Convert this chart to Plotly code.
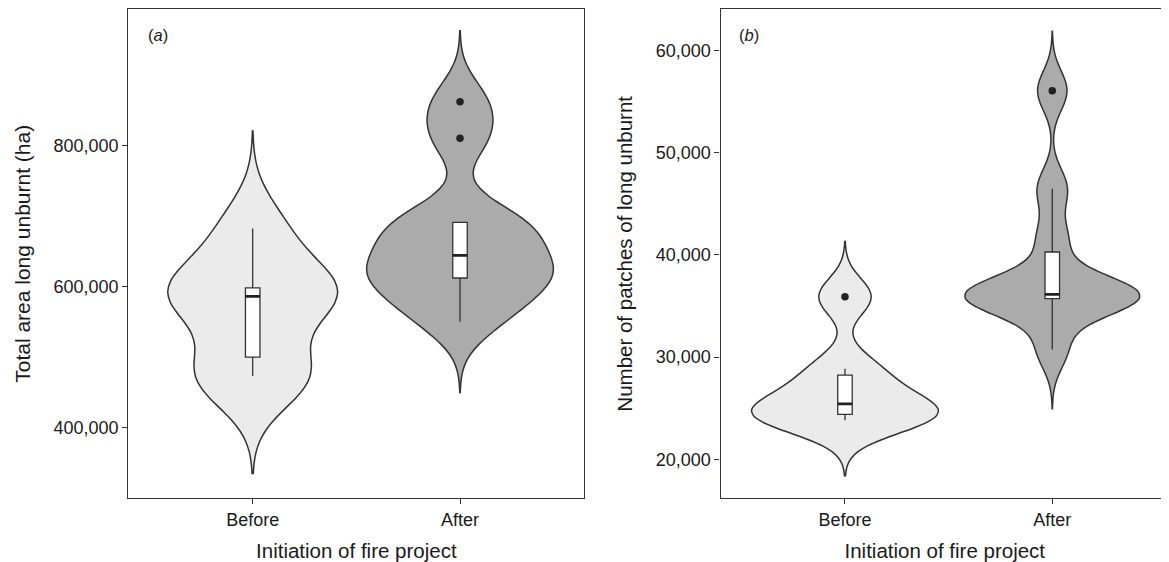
import numpy as np
import plotly.graph_objects as go

# ---------------- data ----------------
categories = ["Before", "After"]

# Panel (a): total area long unburnt (ha)
area_before = [473000, 474000, 577000, 595000, 599000, 682000]
area_after = [550000, 580000, 608000, 624000, 626000, 662000, 691000, 691000, 810000, 862000]

# Panel (b): number of patches of long unburnt
patches_before = [23810, 24370, 24450, 26410, 28850, 35900]
patches_after = [30750, 35600, 35650, 35930, 36050, 36250, 36600, 41520, 46480, 56080]

y_ticks_a = [400000, 600000, 800000]
y_ticks_b = [20000, 30000, 40000, 50000, 60000]
y_range_a = [299600, 993000]
y_range_b = [16180, 64050]

panel_labels = ["a", "b"]
x_title = "Initiation of fire project"
y_title_a = "Total area long unburnt (ha)"
y_title_b = "Number of patches of long unburnt"

# ---------------- styling ----------------
WIN_W, WIN_H = 1169, 562
OFF = 8                      # default page margin of the html body
W, H = WIN_W - OFF, WIN_H - OFF
FONT = "Liberation Sans, Arial, Helvetica, sans-serif"
fills = ["#EBEBEB", "#ABABAB"]
LINE = "#333333"
TXT = "#1a1a1a"
VIOLIN_W = 0.9


def px_x(p):
    return (p - OFF) / W


def px_y(p):
    return 1 - (p - OFF) / H


def bw_nrd0(v):
    v = np.asarray(v, dtype=float)
    sd = v.std(ddof=1)
    iqr = np.percentile(v, 75) - np.percentile(v, 25)
    return 0.9 * min(sd, iqr / 1.34) * len(v) ** -0.2


def kde_max(v, bw):
    v = np.asarray(v, dtype=float)
    grid = np.linspace(v.min() - 3 * bw, v.max() + 3 * bw, 1024)
    d = np.exp(-0.5 * ((grid[:, None] - v[None, :]) / bw) ** 2).sum(axis=1)
    return (d / (len(v) * bw * np.sqrt(2 * np.pi))).max()


def box_stats(v):
    v = np.asarray(v, dtype=float)
    q1, med, q3 = np.percentile(v, [25, 50, 75])
    iqr = q3 - q1
    inside = v[(v >= q1 - 1.5 * iqr) & (v <= q3 + 1.5 * iqr)]
    out = v[(v < q1 - 1.5 * iqr) | (v > q3 + 1.5 * iqr)]
    return q1, med, q3, inside.min(), inside.max(), out


fig = go.Figure()

panels = [
    ("x", "y", "a", [area_before, area_after]),
    ("x2", "y2", "b", [patches_before, patches_after]),
]

for xa, ya, grp, series in panels:
    bws = [bw_nrd0(v) for v in series]
    peaks = [kde_max(v, b) for v, b in zip(series, bws)]
    for i, vals in enumerate(series):
        pos = i + 1
        bw = bws[i]
        # ggplot-like scale="area": widths proportional to each violin's density peak
        vw = VIOLIN_W * peaks[i] / max(peaks)
        fig.add_trace(go.Violin(
            x0=pos, y=vals, xaxis=xa, yaxis=ya,
            width=vw, scalegroup=f"{grp}{i}", scalemode="width",
            bandwidth=bw, spanmode="manual",
            span=[min(vals) - 3 * bw, max(vals) + 3 * bw],
            fillcolor=fills[i], opacity=1,
            line=dict(color=LINE, width=1.5),
            points=False, box_visible=False, meanline_visible=False,
            showlegend=False, hoveron="violins",
        ))
        q1, med, q3, lf, uf, out = box_stats(vals)
        fig.add_trace(go.Box(
            x=[pos], q1=[q1], median=[med], q3=[q3],
            lowerfence=[lf], upperfence=[uf],
            xaxis=xa, yaxis=ya,
            width=0.07, fillcolor="white",
            line=dict(color=LINE, width=1.3), whiskerwidth=0,
            showlegend=False,
        ))
        fig.add_trace(go.Scatter(
            x=[pos - 0.035, pos + 0.035], y=[med, med],
            xaxis=xa, yaxis=ya, mode="lines",
            line=dict(color="#222222", width=2.8),
            showlegend=False, hoverinfo="skip",
        ))
        if len(out):
            fig.add_trace(go.Scatter(
                x=[pos] * len(out), y=list(out), xaxis=xa, yaxis=ya,
                mode="markers", marker=dict(color="#222222", size=7.5),
                showlegend=False,
            ))

unit = 207.3  # px per category unit
xa_dom = [px_x(128.3), px_x(584.4)]
xb_dom = [px_x(720.6), 1.0]
y_dom = [px_y(498.3), px_y(9.3)]

common_x = dict(
    tickvals=[1, 2], ticktext=categories, ticks="outside", ticklen=5,
    tickcolor=LINE, tickwidth=1.2, showline=True, linecolor=LINE, linewidth=1.3,
    showgrid=False, zeroline=False, automargin=False,
    tickfont=dict(family=FONT, size=18, color=TXT),
    title=dict(text=x_title, font=dict(family=FONT, size=20.5, color=TXT), standoff=14),
)
common_y = dict(
    ticks="outside", ticklen=5, tickcolor=LINE, tickwidth=1.2,
    showline=True, linecolor=LINE, linewidth=1.3, showgrid=False, zeroline=False,
    tickformat=",d", automargin=False,
    tickfont=dict(family=FONT, size=18, color=TXT),
)

fig.update_layout(
    width=W, height=H,
    margin=dict(l=0, r=0, t=0, b=0),
    paper_bgcolor="white", plot_bgcolor="white",
    violinmode="overlay", boxmode="overlay",
    font=dict(family=FONT, color=TXT),
    xaxis=dict(domain=xa_dom, range=[0.4, 2.6], mirror=True, anchor="y", **common_x),
    xaxis2=dict(domain=xb_dom, range=[0.4, 0.4 + (WIN_W - 720.6) / unit], mirror=True,
                anchor="y2", **common_x),
    yaxis=dict(domain=y_dom, range=y_range_a, tickvals=y_ticks_a, mirror=True,
               anchor="x",
               title=dict(text=y_title_a, font=dict(family=FONT, size=21, color=TXT),
                          standoff=17),
               **common_y),
    yaxis2=dict(domain=y_dom, range=y_range_b, tickvals=y_ticks_b, mirror=False,
                anchor="x2",
                title=dict(text=y_title_b, font=dict(family=FONT, size=20.5, color=TXT),
                           standoff=17),
                **common_y),
)

for lab, xp in zip(panel_labels, [146, 737]):
    fig.add_annotation(
        x=px_x(xp), y=px_y(35), xref="paper", yref="paper",
        xanchor="left", yanchor="middle", showarrow=False,
        text=f"(<i>{lab}</i>)", font=dict(family=FONT, size=16.5, color=TXT),
    )

fig.write_html("out.html")
